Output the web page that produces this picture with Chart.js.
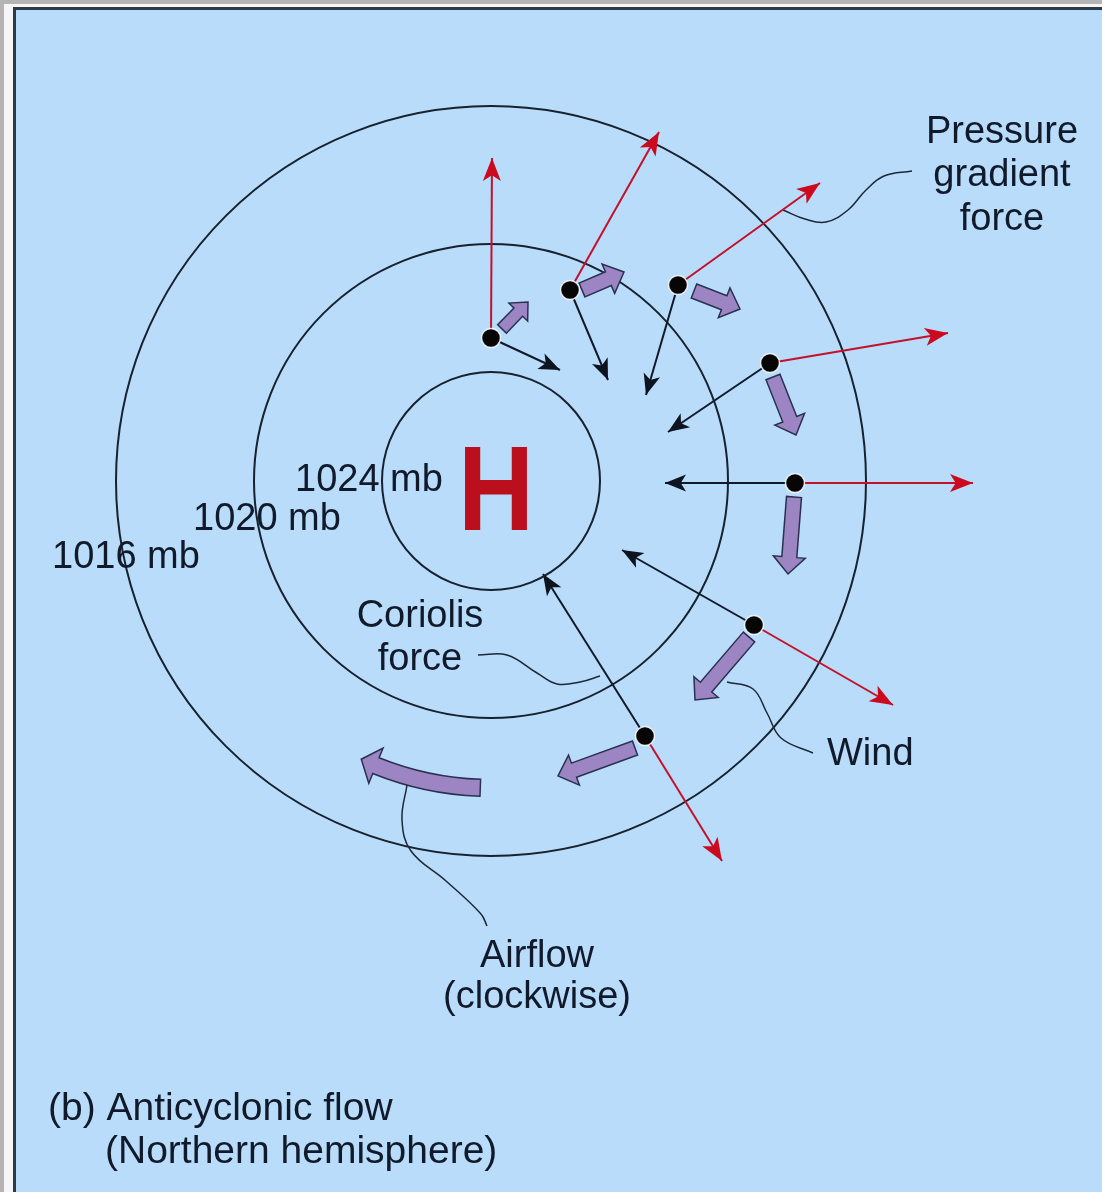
<!DOCTYPE html>
<html lang="en">
<head>
<meta charset="UTF-8">
<title>Anticyclonic flow</title>
<script src="https://cdn.jsdelivr.net/npm/chart.js"></script>
<style>
  html, body { margin: 0; padding: 0; background: #b4b4b4; }
  #wrap { width: 1102px; height: 1192px; }
</style>
</head>
<body>
<div id="wrap"><canvas id="myChart"></canvas></div>
<script>
// all values in diagram units, origin at the centre of the high, y up
const isobarLabels = ['1016 mb', '1020 mb', '1024 mb'];
const isobarRadius = [375, 237, 109];

// air parcels (black dots)
const parcelX = [0, 79, 187, 279, 304, 263, 154];
const parcelY = [143, 191, 196, 118, -2, -144, -255];
// pressure gradient force tips (red)
const pgfTipX = [1, 168, 329, 457, 482, 402, 231];
const pgfTipY = [323, 349, 298, 148, -2, -224, -380];
// coriolis force tips (black)
const corTipX = [69, 117, 155, 177, 174, 131, 52];
const corTipY = [111, 101, 86, 49, -2, -69, -93];
// wind (purple block arrows)
const windTailX = [11, 91, 203, 282, 303, 258, 144];
const windTailY = [152, 191, 190, 104, -16, -156, -267];
const windTipX = [37, 133, 249, 305, 297, 204, 67];
const windTipY = [179, 209, 172, 46, -93, -219, -295];

// big clockwise airflow arrow (degrees, counter-clockwise from east)
const airflowRadius = 307;
const airflowFrom = -92;
const airflowTo = -115;

// leader lines
const pgfLeaderX = [292, 314, 335, 357, 375, 393, 421];
const pgfLeaderY = [271, 262, 259, 271, 291, 305, 310];
const corLeaderX = [-13, 16, 46, 66, 89, 109];
const corLeaderY = [-174, -174, -192, -203, -201, -195];
const windLeaderX = [236, 262, 276, 290, 322];
const windLeaderY = [-201, -208, -232, -257, -272];
const airLeaderX = [-84, -89, -80, -45, -10, -4];
const airLeaderY = [-304, -339, -370, -400, -433, -445];

const labelText = ['Pressure', 'gradient', 'force', 'Coriolis', 'force', 'Wind', 'Airflow', '(clockwise)',
                   '(b) Anticyclonic flow', '(Northern hemisphere)'];

const RED = '#c4112b';
const INK = '#111a2b';
const PURPLE = '#9c85c2';

function pts(xs, ys) { return xs.map((x, i) => ({ x: x, y: ys[i] })); }

const datasets = [];
datasets.push({ label: 'parcels', data: pts(parcelX, parcelY), pointRadius: 9.5, pointBackgroundColor: '#060606',
  pointBorderColor: 'rgba(255,255,255,0.85)', pointBorderWidth: 1.5, showLine: false });
parcelX.forEach((x, i) => {
  datasets.push({ label: 'pgf' + i, kind: 'pgf', data: [{ x: x, y: parcelY[i] }, { x: pgfTipX[i], y: pgfTipY[i] }],
    showLine: true, borderColor: RED, borderWidth: 2, pointRadius: 0 });
  datasets.push({ label: 'cor' + i, kind: 'cor', data: [{ x: x, y: parcelY[i] }, { x: corTipX[i], y: corTipY[i] }],
    showLine: true, borderColor: INK, borderWidth: 2, pointRadius: 0 });
});
[[pgfLeaderX, pgfLeaderY], [corLeaderX, corLeaderY], [windLeaderX, windLeaderY], [airLeaderX, airLeaderY]].forEach(l => {
  datasets.push({ label: 'leader', data: pts(l[0], l[1]), showLine: true, tension: 0.4,
    borderColor: '#1d2738', borderWidth: 1.5, pointRadius: 0 });
});

function blockArrow(ctx, tx, ty, hx, hy, bw, hw, hl) {
  const len = Math.hypot(hx - tx, hy - ty);
  const ux = (hx - tx) / len, uy = (hy - ty) / len;
  const nx = -uy, ny = ux;
  const bx = hx - ux * hl, by = hy - uy * hl;
  ctx.beginPath();
  ctx.moveTo(tx + nx * bw, ty + ny * bw);
  ctx.lineTo(bx + nx * bw, by + ny * bw);
  ctx.lineTo(bx + nx * hw, by + ny * hw);
  ctx.lineTo(hx, hy);
  ctx.lineTo(bx - nx * hw, by - ny * hw);
  ctx.lineTo(bx - nx * bw, by - ny * bw);
  ctx.lineTo(tx - nx * bw, ty - ny * bw);
  ctx.closePath();
  ctx.fill();
  ctx.stroke();
}

function head(ctx, x0, y0, x1, y1, L, W, color) {
  const len = Math.hypot(x1 - x0, y1 - y0);
  const ux = (x1 - x0) / len, uy = (y1 - y0) / len;
  const nx = -uy, ny = ux;
  ctx.fillStyle = color;
  ctx.beginPath();
  ctx.moveTo(x1, y1);
  ctx.lineTo(x1 - ux * L + nx * W, y1 - uy * L + ny * W);
  ctx.lineTo(x1 - ux * L * 0.75, y1 - uy * L * 0.75);
  ctx.lineTo(x1 - ux * L - nx * W, y1 - uy * L - ny * W);
  ctx.closePath();
  ctx.fill();
}

const diagram = {
  id: 'diagram',
  beforeDraw(chart) {
    const ctx = chart.ctx, w = chart.width, h = chart.height;
    ctx.save();
    ctx.fillStyle = '#b4b4b4'; ctx.fillRect(0, 0, w, h);
    ctx.fillStyle = '#f6f6f6'; ctx.fillRect(4, 4, w, h);
    ctx.fillStyle = '#2c3a48'; ctx.fillRect(13, 7, w, h);
    ctx.fillStyle = '#b8dcf9'; ctx.fillRect(16, 10, w, h);
    ctx.restore();
  },
  beforeDatasetsDraw(chart) {
    const ctx = chart.ctx, sx = chart.scales.x, sy = chart.scales.y;
    const cx = sx.getPixelForValue(0), cy = sy.getPixelForValue(0);
    ctx.save();
    // isobars
    ctx.strokeStyle = '#17212f';
    ctx.lineWidth = 2;
    isobarRadius.forEach(r => {
      const rp = sx.getPixelForValue(r) - cx;
      ctx.beginPath();
      ctx.arc(cx, cy, rp, 0, Math.PI * 2);
      ctx.stroke();
    });
    // wind arrows
    ctx.fillStyle = PURPLE;
    ctx.strokeStyle = '#2a3150';
    ctx.lineWidth = 1.5;
    ctx.lineJoin = 'miter';
    windTailX.forEach((x, i) => {
      const small = i === 0;
      blockArrow(ctx, sx.getPixelForValue(x), sy.getPixelForValue(windTailY[i]),
        sx.getPixelForValue(windTipX[i]), sy.getPixelForValue(windTipY[i]),
        small ? 6 : 7.5, small ? 13 : 16, small ? 14 : 17);
    });
    // airflow arc arrow
    const rp = sx.getPixelForValue(airflowRadius) - cx;
    const a0 = -airflowFrom * Math.PI / 180, a2 = -airflowTo * Math.PI / 180;
    const a1 = a2 - 16 / rp;
    const bw = 8.5, hw = 19;
    ctx.beginPath();
    ctx.arc(cx, cy, rp + bw, a0, a1, false);
    ctx.lineTo(cx + (rp + hw) * Math.cos(a1), cy + (rp + hw) * Math.sin(a1));
    ctx.lineTo(cx + rp * Math.cos(a2), cy + rp * Math.sin(a2));
    ctx.lineTo(cx + (rp - hw) * Math.cos(a1), cy + (rp - hw) * Math.sin(a1));
    ctx.arc(cx, cy, rp - bw, a1, a0, true);
    ctx.closePath();
    ctx.fill();
    ctx.stroke();
    ctx.restore();
  },
  afterDatasetsDraw(chart) {
    const ctx = chart.ctx, sx = chart.scales.x, sy = chart.scales.y;
    ctx.save();
    chart.data.datasets.forEach((ds, i) => {
      if (ds.kind !== 'pgf' && ds.kind !== 'cor') return;
      const m = chart.getDatasetMeta(i).data;
      head(ctx, m[0].x, m[0].y, m[1].x, m[1].y, ds.kind === 'pgf' ? 23 : 21, ds.kind === 'pgf' ? 9 : 8.5,
        ds.kind === 'pgf' ? '#cc0a1e' : '#0d1420');
    });
    // text
    const P = (x, y) => [sx.getPixelForValue(x), sy.getPixelForValue(y)];
    ctx.fillStyle = INK;
    ctx.textBaseline = 'alphabetic';
    ctx.font = '38px "Liberation Sans", Arial, sans-serif';
    ctx.textAlign = 'left';
    const isoPos = [[-439, -87], [-298, -49], [-196, -10]];
    isobarLabels.forEach((t, i) => { const p = P(isoPos[i][0], isoPos[i][1]); ctx.fillText(t, p[0], p[1]); });
    const lab = [
      [511, 338, 'center'], [511, 295, 'center'], [511, 251, 'center'],
      [-71, -146, 'center'], [-71, -189, 'center'],
      [336, -284, 'left'],
      [46, -486, 'center'], [46, -527, 'center']
    ];
    lab.forEach((l, i) => {
      const p = P(l[0], l[1]);
      ctx.textAlign = l[2];
      ctx.fillText(labelText[i], p[0], p[1]);
    });
    ctx.font = '39px "Liberation Sans", Arial, sans-serif';
    ctx.textAlign = 'left';
    let p = P(-443, -639); ctx.fillText(labelText[8], p[0], p[1]);
    p = P(-386, -682); ctx.fillText(labelText[9], p[0], p[1]);
    // the H
    p = P(5, -49);
    ctx.translate(p[0], p[1]);
    ctx.scale(0.87, 1);
    ctx.fillStyle = '#bb0f1d';
    ctx.font = 'bold 121px "Liberation Sans", Arial, sans-serif';
    ctx.textAlign = 'center';
    ctx.fillText('H', 0, 0);
    ctx.restore();
  }
};

new Chart(document.getElementById('myChart'), {
  type: 'scatter',
  data: { datasets: datasets },
  options: {
    responsive: true,
    maintainAspectRatio: false,
    devicePixelRatio: 1,
    animation: false,
    events: [],
    layout: { padding: 0, autoPadding: false },
    plugins: { legend: { display: false }, tooltip: { enabled: false } },
    scales: {
      x: { type: 'linear', min: -491, max: 611, display: false },
      y: { type: 'linear', min: -711, max: 481, display: false }
    }
  },
  plugins: [diagram]
});
</script>
</body>
</html>
